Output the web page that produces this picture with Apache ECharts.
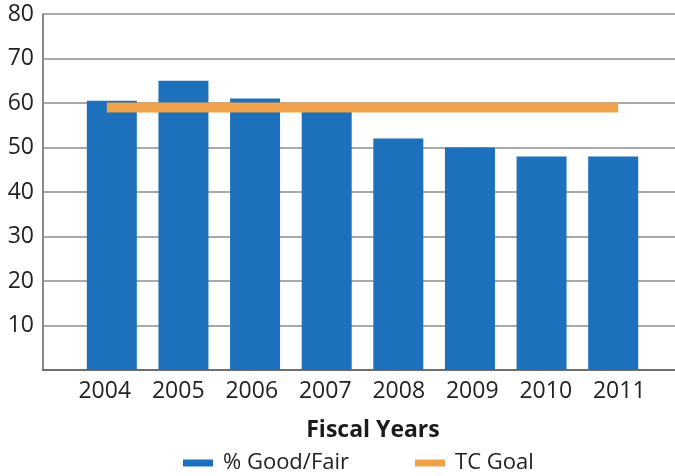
<!DOCTYPE html>
<html>
<head>
<meta charset="utf-8">
<script src="https://cdn.jsdelivr.net/npm/echarts@6/dist/echarts.min.js"></script>
<style>
  html, body { margin: 0; padding: 0; background: #ffffff; }
  #chart { width: 675px; height: 476px; }
</style>
</head>
<body>
<div id="chart"></div>
<script>
// Fiscal years on the category axis
var years = ['2004', '2005', '2006', '2007', '2008', '2009', '2010', '2011'];
// Share of assets rated good or fair, per fiscal year (%)
var goodFair = [60.5, 65, 61, 58, 52, 50, 48, 48];
// Target condition goal (%)
var tcGoal = [59, 59, 59, 59, 59, 59, 59, 59];
// Value-axis ticks
var yTicks = [0, 10, 20, 30, 40, 50, 60, 70, 80];

var FONT = '"Open Sans", "Noto Sans", sans-serif';
var BLUE = '#1d71bc';
var ORANGE = '#f0a24b';
var GRID_TOP = 14, GRID_BOTTOM = 106;

var chart = echarts.init(document.getElementById('chart'), null, { renderer: 'canvas' });

chart.setOption({
  animation: false,
  backgroundColor: '#ffffff',
  grid: [
    // frame, gridlines and value labels
    { left: 43, right: 0, top: GRID_TOP, bottom: GRID_BOTTOM },
    // bars and goal line
    { left: 76, right: 26, top: GRID_TOP, bottom: GRID_BOTTOM },
    // year labels
    { left: 68, right: 19, top: GRID_TOP, bottom: GRID_BOTTOM }
  ],
  xAxis: [
    {
      gridIndex: 0, type: 'category', data: years, boundaryGap: true,
      axisLine: { show: true, lineStyle: { color: '#6e6e6e', width: 2 } },
      axisTick: { show: false }, axisLabel: { show: false }, splitLine: { show: false }
    },
    {
      gridIndex: 1, type: 'category', data: years, boundaryGap: true,
      axisLine: { show: false }, axisTick: { show: false }, axisLabel: { show: false }
    },
    {
      gridIndex: 2, type: 'category', data: years, boundaryGap: true,
      axisLine: { show: false }, axisTick: { show: false },
      axisLabel: { show: true, color: '#222222', fontFamily: FONT, fontSize: 23, margin: 10 },
      name: 'Fiscal Years', nameLocation: 'middle', nameGap: 49,
      nameTextStyle: { color: '#1a1a1a', fontFamily: FONT, fontSize: 23, fontWeight: 'bold', padding: [0, 0, 0, 22] }
    }
  ],
  yAxis: [
    {
      gridIndex: 0, type: 'value', min: yTicks[0], max: yTicks[yTicks.length - 1], interval: 10,
      axisLine: { show: true, lineStyle: { color: '#8a8a8a', width: 2 } },
      axisTick: { show: false },
      axisLabel: {
        color: '#222222', fontFamily: FONT, fontSize: 23, margin: 9,
        formatter: function (v) { return v === 0 ? '' : String(v); }
      },
      splitLine: { show: true, lineStyle: { color: '#8c8c8c', width: 1.5 } }
    },
    {
      gridIndex: 1, type: 'value', min: yTicks[0], max: yTicks[yTicks.length - 1], interval: 10,
      axisLine: { show: false }, axisTick: { show: false }, axisLabel: { show: false }, splitLine: { show: false }
    },
    {
      gridIndex: 2, type: 'value', min: yTicks[0], max: yTicks[yTicks.length - 1], interval: 10,
      axisLine: { show: false }, axisTick: { show: false }, axisLabel: { show: false }, splitLine: { show: false }
    }
  ],
  legend: {
    left: 178, top: 447,
    itemWidth: 30, itemHeight: 7, itemGap: 66,
    textStyle: { color: '#222222', fontFamily: FONT, fontSize: 22, padding: [0, 0, 0, 5] },
    data: [
      { name: '% Good/Fair', icon: 'rect' },
      { name: 'TC Goal', icon: 'rect' }
    ]
  },
  series: [
    {
      name: '% Good/Fair', type: 'bar', xAxisIndex: 1, yAxisIndex: 1,
      data: goodFair, barWidth: 50,
      itemStyle: { color: BLUE },
      z: 2
    },
    {
      name: 'TC Goal', type: 'line', xAxisIndex: 1, yAxisIndex: 1,
      data: tcGoal, symbol: 'none', showSymbol: false,
      lineStyle: { color: ORANGE, width: 10, cap: 'square' },
      itemStyle: { color: ORANGE },
      z: 3
    }
  ]
});
</script>
</body>
</html>
